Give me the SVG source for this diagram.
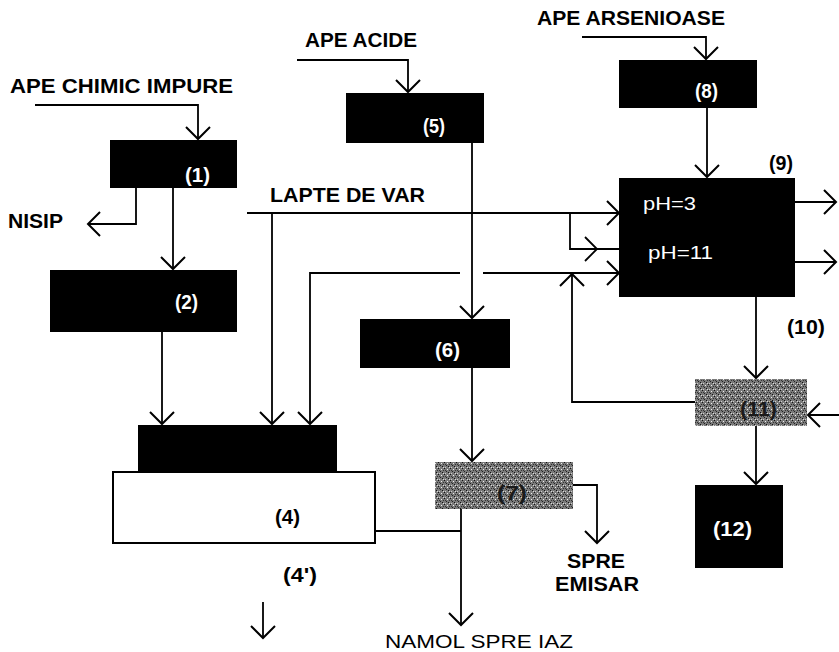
<svg xmlns="http://www.w3.org/2000/svg" width="839" height="652" viewBox="0 0 839 652">
<defs>
<style>
.blk{fill:#000;}
.line{fill:none;stroke:#000;stroke-width:1.8;}
.lbl{font-family:"Liberation Sans",Arial,sans-serif;font-weight:bold;font-size:21px;fill:#000;}
.reg{font-family:"Liberation Sans",Arial,sans-serif;font-size:18px;fill:#000;}
.num{font-family:"Liberation Sans",Arial,sans-serif;font-weight:bold;font-size:21px;}
.w{fill:#fff;}
.k{fill:#000;}
.ph{font-family:"Liberation Sans",Arial,sans-serif;font-size:19px;fill:#fff;}
</style>
<marker id="arr" viewBox="0 0 30 30" refX="15" refY="15" markerWidth="30" markerHeight="30" markerUnits="userSpaceOnUse" orient="auto">
<path d="M3,3 L15,15 L3,27" fill="none" stroke="#000" stroke-width="2"/>
</marker>
<pattern id="speck" width="6" height="6" patternUnits="userSpaceOnUse">
<rect width="6" height="6" fill="#7a7a7a"/>
<rect x="0" y="0" width="1" height="1" fill="#111"/>
<rect x="3" y="1" width="1" height="1" fill="#eee"/>
<rect x="2" y="3" width="1" height="1" fill="#222"/>
<rect x="5" y="2" width="1" height="1" fill="#333"/>
<rect x="1" y="5" width="1" height="1" fill="#ccc"/>
<rect x="4" y="4" width="1" height="1" fill="#111"/>
<rect x="5" y="5" width="1" height="1" fill="#ddd"/>
<rect x="1" y="2" width="1" height="1" fill="#333"/>
</pattern>
</defs>
<rect width="839" height="652" fill="#fff"/>

<g id="connectors">
<path class="line" d="M35,105 H198 V139" marker-end="url(#arr)"/>
<path class="line" d="M136,188 V224 H88" marker-end="url(#arr)"/>
<path class="line" d="M173,188 V269" marker-end="url(#arr)"/>
<path class="line" d="M162,332 V424" marker-end="url(#arr)"/>
<path class="line" d="M247,213 H619" marker-end="url(#arr)"/>
<path class="line" d="M272,213 V424" marker-end="url(#arr)"/>
<path class="line" d="M570,213 V249 H620"/>
<path class="line" d="M585,237 L597,249 L585,261"/>
<path class="line" d="M695,402 H572 V274" marker-end="url(#arr)"/>
<path class="line" d="M483,273 H619" marker-end="url(#arr)"/>
<path class="line" d="M460,273 H310 V424" marker-end="url(#arr)"/>
<path class="line" d="M297,60 H408 V92" marker-end="url(#arr)"/>
<path class="line" d="M472,143 V318" marker-end="url(#arr)"/>
<path class="line" d="M472,368 V461" marker-end="url(#arr)"/>
<path class="line" d="M573,485 H597 V543" marker-end="url(#arr)"/>
<path class="line" d="M461,509 V625" marker-end="url(#arr)"/>
<path class="line" d="M375,531 H461"/>
<path class="line" d="M582,37 H706 V59" marker-end="url(#arr)"/>
<path class="line" d="M707,108 V177" marker-end="url(#arr)"/>
<path class="line" d="M795,202 H836" marker-end="url(#arr)"/>
<path class="line" d="M795,262 H836" marker-end="url(#arr)"/>
<path class="line" d="M756,297 V378" marker-end="url(#arr)"/>
<path class="line" d="M845,415 H808" marker-end="url(#arr)"/>
<path class="line" d="M756,426 V484" marker-end="url(#arr)"/>
<path class="line" d="M263,602 V638" marker-end="url(#arr)"/>
</g>

<g id="n1"><rect class="blk" x="110" y="140" width="127" height="48"/><text class="num w" x="185" y="182" textLength="25" lengthAdjust="spacingAndGlyphs">(1)</text></g>
<g id="n2"><rect class="blk" x="50" y="270" width="187" height="62"/><text class="num w" x="175" y="309" textLength="23" lengthAdjust="spacingAndGlyphs">(2)</text></g>
<g id="n3"><rect class="blk" x="138" y="425" width="199" height="48"/></g>
<g id="n4"><rect x="113" y="472" width="262" height="71" fill="#fff" stroke="#000" stroke-width="2"/><text class="num k" x="275" y="524" textLength="25" lengthAdjust="spacingAndGlyphs">(4)</text></g>
<g id="n4p"><text class="num k" x="283" y="582" textLength="34" lengthAdjust="spacingAndGlyphs">(4')</text></g>
<g id="n5"><rect class="blk" x="346" y="93" width="138" height="50"/><text class="num w" x="423" y="133" textLength="22" lengthAdjust="spacingAndGlyphs">(5)</text></g>
<g id="n6"><rect class="blk" x="360" y="319" width="150" height="49"/><text class="num w" x="435" y="357" textLength="25" lengthAdjust="spacingAndGlyphs">(6)</text></g>
<g id="n7"><rect x="435" y="462" width="138" height="47" fill="url(#speck)"/><text class="num" fill="#1a1a1a" x="497" y="500" textLength="30" lengthAdjust="spacingAndGlyphs">(7)</text></g>
<g id="n8"><rect class="blk" x="619" y="60" width="138" height="48"/><text class="num w" x="695" y="98" textLength="23" lengthAdjust="spacingAndGlyphs">(8)</text></g>
<g id="n9"><rect class="blk" x="619" y="178" width="176" height="119"/><text class="ph" x="643" y="210" textLength="53" lengthAdjust="spacingAndGlyphs">pH=3</text><text class="ph" x="648" y="259" textLength="65" lengthAdjust="spacingAndGlyphs">pH=11</text><text class="num k" x="769" y="170" textLength="24" lengthAdjust="spacingAndGlyphs">(9)</text></g>
<g id="n10"><text class="num k" x="787" y="334" textLength="38" lengthAdjust="spacingAndGlyphs">(10)</text></g>
<g id="n11"><rect x="695" y="379" width="112" height="47" fill="url(#speck)"/><text class="num" fill="#1a1a1a" x="740" y="416" textLength="37" lengthAdjust="spacingAndGlyphs">(11)</text></g>
<g id="n12"><rect class="blk" x="695" y="485" width="88" height="83"/><text class="num w" x="713" y="536" textLength="39" lengthAdjust="spacingAndGlyphs">(12)</text></g>

<g id="labels">
<text class="lbl" x="10" y="93" textLength="223" lengthAdjust="spacingAndGlyphs">APE CHIMIC IMPURE</text>
<text class="lbl" x="305" y="47" textLength="112" lengthAdjust="spacingAndGlyphs">APE ACIDE</text>
<text class="lbl" x="537" y="25" textLength="188" lengthAdjust="spacingAndGlyphs">APE ARSENIOASE</text>
<text class="lbl" x="270" y="202" textLength="155" lengthAdjust="spacingAndGlyphs">LAPTE DE VAR</text>
<text class="lbl" x="8" y="228" textLength="55" lengthAdjust="spacingAndGlyphs">NISIP</text>
<text class="lbl" x="567" y="568" textLength="58" lengthAdjust="spacingAndGlyphs">SPRE</text>
<text class="lbl" x="555" y="591" textLength="84" lengthAdjust="spacingAndGlyphs">EMISAR</text>
<text class="reg" x="385" y="648" textLength="188" lengthAdjust="spacingAndGlyphs">NAMOL SPRE IAZ</text>
</g>
</svg>
